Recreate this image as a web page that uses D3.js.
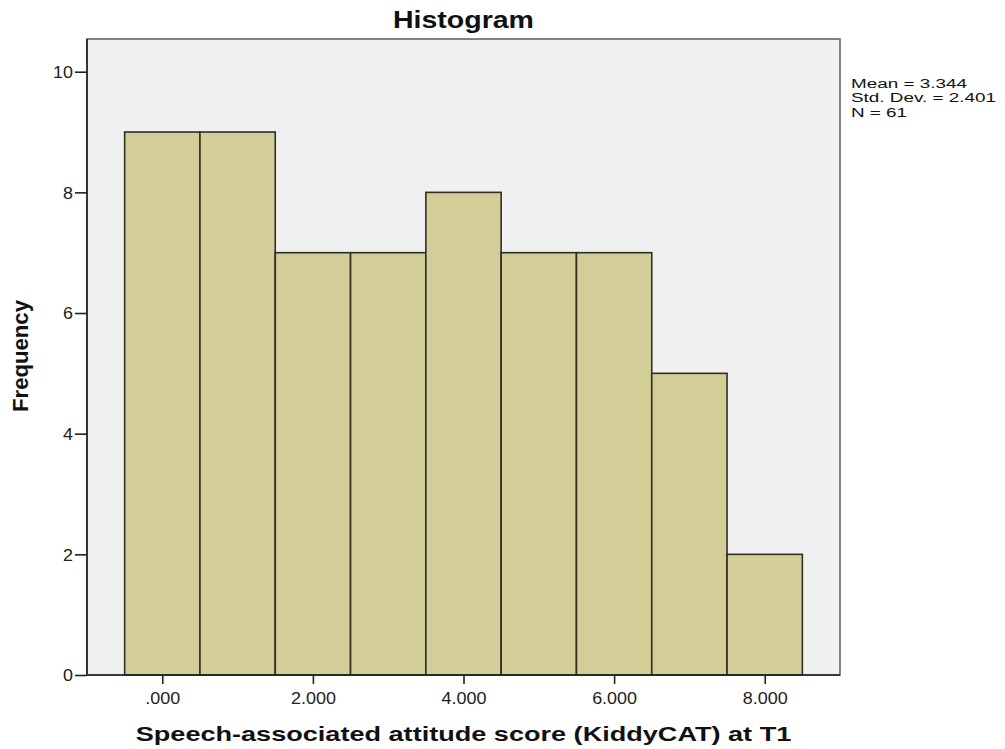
<!DOCTYPE html>
<html>
<head>
<meta charset="utf-8">
<script src="https://cdn.jsdelivr.net/npm/d3@7"></script>
<style>
  html, body { margin: 0; padding: 0; background: #fff; }
  svg text { font-family: "Liberation Sans", Arial, sans-serif; }
</style>
</head>
<body>
<svg id="chart" width="1005" height="749"></svg>
<script>
// Histogram bins (bin centres) and their frequencies
const binCenters = [0, 1, 2, 3, 4, 5, 6, 7, 8];
const frequencies = [9, 9, 7, 7, 8, 7, 7, 5, 2];
const binWidth = 1;
const xTicks = [0, 2, 4, 6, 8];
const yTicks = [0, 2, 4, 6, 8, 10];
const statLines = ["Mean = 3.344", "Std. Dev. = 2.401", "N = 61"];

const svg = d3.select("#chart");
const plot = { left: 87, right: 840, top: 39, bottom: 675 };

const x = d3.scaleLinear().domain([-1, 9]).range([plot.left, plot.right]);
const y = d3.scaleLinear().domain([0, 10]).range([plot.bottom, 71.7]);

// Widen a text horizontally about its own anchor point
function widen(node, factor) {
  const ax = +node.getAttribute("x") || 0;
  const prev = node.getAttribute("transform") || "";
  node.setAttribute("transform",
    `${prev} translate(${ax},0) scale(${factor},1) translate(${-ax},0)`);
}
function widenTo(node, width) {
  widen(node, width / node.getComputedTextLength());
}

// Plot background
svg.append("rect")
  .attr("x", plot.left).attr("y", plot.top)
  .attr("width", plot.right - plot.left).attr("height", plot.bottom - plot.top)
  .attr("fill", "#f0f0f0").attr("stroke", "#666").attr("stroke-width", 1.6);

// Bars
svg.append("g").selectAll("rect")
  .data(binCenters.map((c, i) => ({ c, f: frequencies[i] })))
  .join("rect")
  .attr("x", d => x(d.c - binWidth / 2))
  .attr("y", d => y(d.f))
  .attr("width", d => x(d.c + binWidth / 2) - x(d.c - binWidth / 2))
  .attr("height", d => y(0) - y(d.f))
  .attr("fill", "#d3ce98")
  .attr("stroke", "#2e2e22")
  .attr("stroke-width", 1.6);

// Axes
const fmt = d => d3.format(".3f")(d).replace(/^0\./, ".");
const xAxis = svg.append("g")
  .attr("transform", `translate(0,${plot.bottom})`)
  .call(d3.axisBottom(x).tickValues(xTicks).tickFormat(fmt).tickSize(9).tickPadding(5).tickSizeOuter(0));
const yAxis = svg.append("g")
  .attr("transform", `translate(${plot.left},0)`)
  .call(d3.axisLeft(y).tickValues(yTicks).tickFormat(d3.format("d")).tickSize(12).tickPadding(2).tickSizeOuter(0));

[xAxis, yAxis].forEach(a => {
  a.select(".domain").remove();
  a.selectAll("line").attr("stroke", "#222").attr("stroke-width", 1.6);
  a.selectAll("text").attr("font-size", 16).attr("fill", "#222")
    .attr("font-family", "'Liberation Sans', Arial, sans-serif");
});
xAxis.selectAll("text").attr("dy", "0.95em");
yAxis.selectAll("text").attr("dy", "0.36em");

// Tick labels are drawn slightly wide
const xSample = xAxis.selectAll("text").nodes()[1];
const xFactor = 45 / xSample.getComputedTextLength();
xAxis.selectAll("text").each(function () { widen(this, xFactor); });
yAxis.selectAll("text").each(function () { widen(this, 1.12); });

// Left and bottom frame lines drawn darker
svg.append("line").attr("x1", plot.left).attr("x2", plot.left).attr("y1", plot.top).attr("y2", plot.bottom)
  .attr("stroke", "#222").attr("stroke-width", 1.6);
svg.append("line").attr("x1", plot.left).attr("x2", plot.right).attr("y1", plot.bottom).attr("y2", plot.bottom)
  .attr("stroke", "#222").attr("stroke-width", 1.6);

// Title
const title = svg.append("text")
  .attr("x", (plot.left + plot.right) / 2).attr("y", 28)
  .attr("text-anchor", "middle").attr("font-size", 23).attr("font-weight", "bold")
  .attr("fill", "#111").text("Histogram");
widenTo(title.node(), 141);

// Axis titles
const xTitle = svg.append("text")
  .attr("x", (plot.left + plot.right) / 2).attr("y", 741)
  .attr("text-anchor", "middle").attr("font-size", 20).attr("font-weight", "bold")
  .attr("fill", "#111").text("Speech-associated attitude score (KiddyCAT) at T1");
widenTo(xTitle.node(), 656);

svg.append("text")
  .attr("transform", `translate(28,356) rotate(-90)`)
  .attr("text-anchor", "middle").attr("font-size", 22).attr("font-weight", "bold")
  .attr("textLength", 112).attr("lengthAdjust", "spacingAndGlyphs")
  .attr("fill", "#111").text("Frequency");

// Summary statistics
const stats = svg.append("g").selectAll("text")
  .data(statLines)
  .join("text")
  .attr("x", 851).attr("y", (d, i) => 88 + i * 14.5)
  .attr("font-size", 12.5).attr("fill", "#111")
  .text(d => d);
const statFactor = 145 / stats.nodes()[1].getComputedTextLength();
stats.each(function () { widen(this, statFactor); });
</script>
</body>
</html>
